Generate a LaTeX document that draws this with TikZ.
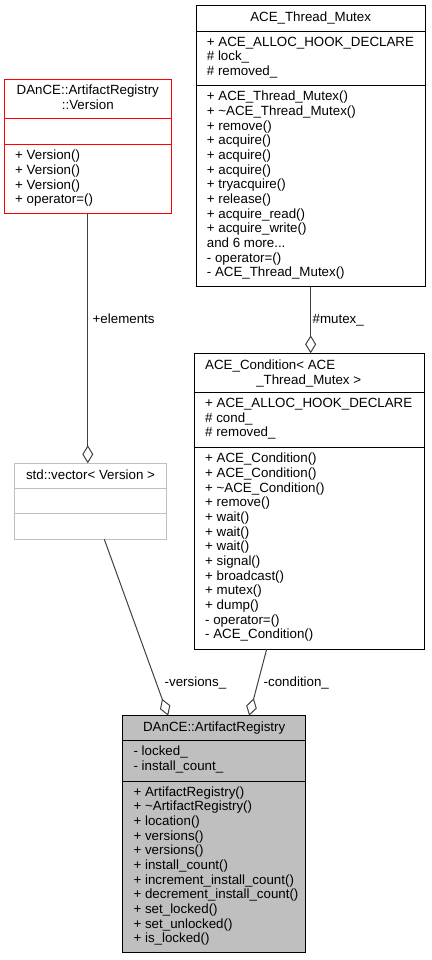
\documentclass[tikz,border=0pt]{standalone}
\usepackage{fontspec}
\setmainfont{Liberation Sans}
\usetikzlibrary{positioning}
\usetikzlibrary{arrows.meta}
\definecolor{edgegray}{HTML}{404040}
\definecolor{boxred}{HTML}{FF0000}
\definecolor{regfill}{HTML}{BFBFBF}
\definecolor{ghostgray}{HTML}{BFBFBF}
\newcommand{\umlfont}{\fontsize{13.33pt}{14.67pt}\selectfont}
\newcommand{\mstrut}{\rule{0pt}{10.7pt}}
\tikzset{classbox/.style={draw, line width=1pt, anchor=north west, inner sep=0pt, outer sep=0pt},
    member/.style={font=\umlfont, align=left, inner sep=0pt, execute at begin node=\mstrut},
    classtitle/.style={font=\umlfont, align=center, inner sep=0pt, execute at begin node=\mstrut},
    aggregation/.style={draw=edgegray, line width=1pt, -{Diamond[open, length=18pt, width=11pt]}},
    edgelabel/.style={font=\umlfont, inner sep=0pt, anchor=base west}
}

\begin{document}
\begin{tikzpicture}[x=1pt,y=-1pt]
      \useasboundingbox (0,0) rectangle (431,960);
      % ACE_Thread_Mutex
      \node[classbox, minimum width=229.3pt, minimum height=281pt] (mutex) at (196,5.7) {};
      \coordinate (mutexattr) at (196,31.3);
      \coordinate (mutexops) at (196,85.7);
      \draw[line width=1pt] (mutexattr) -- (mutexattr -| mutex.east);
      \draw[line width=1pt] (mutexops) -- (mutexops -| mutex.east);
      \node[classtitle, below=5.3pt of mutex.north] (mutextitle) {ACE\_Thread\_Mutex};
      \node[member, below right=5.3pt and 10.7pt of mutexattr] (mutexattrs) {+ ACE\_ALLOC\_HOOK\_DECLARE\\\# lock\_\\\# removed\_};
      \node[member, below right=5.3pt and 10.7pt of mutexops] (mutexopers) {+ ACE\_Thread\_Mutex()\\+ \textasciitilde ACE\_Thread\_Mutex()\\+ remove()\\+ acquire()\\+ acquire()\\+ acquire()\\+ tryacquire()\\+ release()\\+ acquire\_read()\\+ acquire\_write()\\and 6 more...\\- operator=()\\- ACE\_Thread\_Mutex()};
      % DAnCE::ArtifactRegistry::Version
      \node[classbox, draw=boxred, minimum width=167pt, minimum height=134.4pt] (version) at (4.3,79.3) {};
      \coordinate (versionattr) at (4.3,119);
      \coordinate (versionops) at (4.3,144.7);
      \draw[boxred, line width=1pt] (versionattr) -- (versionattr -| version.east);
      \draw[boxred, line width=1pt] (versionops) -- (versionops -| version.east);
      \node[classtitle, below=5.3pt of version.north] (versiontitle) {DAnCE::ArtifactRegistry\\::Version};
      \node[member, below right=5.3pt and 10.7pt of versionops] (versionopers) {+ Version()\\+ Version()\\+ Version()\\+ operator=()};
      % ACE_Condition< ACE_Thread_Mutex >
      \node[classbox, minimum width=230pt, minimum height=295.7pt] (cond) at (194.3,353.3) {};
      \coordinate (condattr) at (194.3,392.7);
      \coordinate (condops) at (194.3,447.7);
      \draw[line width=1pt] (condattr) -- (condattr -| cond.east);
      \draw[line width=1pt] (condops) -- (condops -| cond.east);
      \node[classtitle, below right=5.3pt and 10.7pt of cond.north west] (condtitle) {ACE\_Condition< ACE};
      \node[classtitle, anchor=north] (condtitleb) at (308.7,373.27) {\_Thread\_Mutex >};
      \node[member, below right=5.3pt and 10.7pt of condattr] (condattrs) {+ ACE\_ALLOC\_HOOK\_DECLARE\\\# cond\_\\\# removed\_};
      \node[member, below right=5.3pt and 10.7pt of condops] (condopers) {+ ACE\_Condition()\\+ ACE\_Condition()\\+ \textasciitilde ACE\_Condition()\\+ remove()\\+ wait()\\+ wait()\\+ wait()\\+ signal()\\+ broadcast()\\+ mutex()\\+ dump()\\- operator=()\\- ACE\_Condition()};
      % std::vector< Version >
      \node[classbox, draw=ghostgray, minimum width=151.6pt, minimum height=76pt] (vector) at (14.7,463.3) {};
      \coordinate (vectorattr) at (14.7,488.3);
      \coordinate (vectorops) at (14.7,513.7);
      \draw[ghostgray, line width=1pt] (vectorattr) -- (vectorattr -| vector.east);
      \draw[ghostgray, line width=1pt] (vectorops) -- (vectorops -| vector.east);
      \node[classtitle, below=5.3pt of vector.north] (vectortitle) {std::vector< Version >};
      % DAnCE::ArtifactRegistry
      \node[classbox, fill=regfill, minimum width=183pt, minimum height=237pt] (registry) at (122.7,715.7) {};
      \coordinate (registryattr) at (122.7,740.7);
      \coordinate (registryops) at (122.7,781);
      \draw[line width=1pt] (registryattr) -- (registryattr -| registry.east);
      \draw[line width=1pt] (registryops) -- (registryops -| registry.east);
      \node[classtitle, below=5.3pt of registry.north] (registrytitle) {DAnCE::ArtifactRegistry};
      \node[member, below right=5.3pt and 10.7pt of registryattr] (registryattrs) {- locked\_\\- install\_count\_};
      \node[member, below right=5.3pt and 10.7pt of registryops] (registryopers) {+ ArtifactRegistry()\\+ \textasciitilde ArtifactRegistry()\\+ location()\\+ versions()\\+ versions()\\+ install\_count()\\+ increment\_install\_count()\\+ decrement\_install\_count()\\+ set\_locked()\\+ set\_unlocked()\\+ is\_locked()};
      % aggregations
      \draw[aggregation] (version.south) -- (version.south |- vector.north);
      \draw[aggregation] (mutex.south) -- (mutex.south |- cond.north);
      \draw[aggregation] ([xshift=13.8pt]vector.south) -- ([xshift=-46pt]registry.north);
      \draw[aggregation] ([xshift=-42.6pt]cond.south) -- ([xshift=35pt]registry.north);
      \node[edgelabel] (lelements) at (92.5,323) {+elements};
      \node[edgelabel] (lmutex) at (312.5,323) {\#mutex\_};
      \node[edgelabel] (lversions) at (164.5,686) {-versions\_};
      \node[edgelabel] (lcondition) at (263.5,686) {-condition\_};
\end{tikzpicture}
\end{document}
